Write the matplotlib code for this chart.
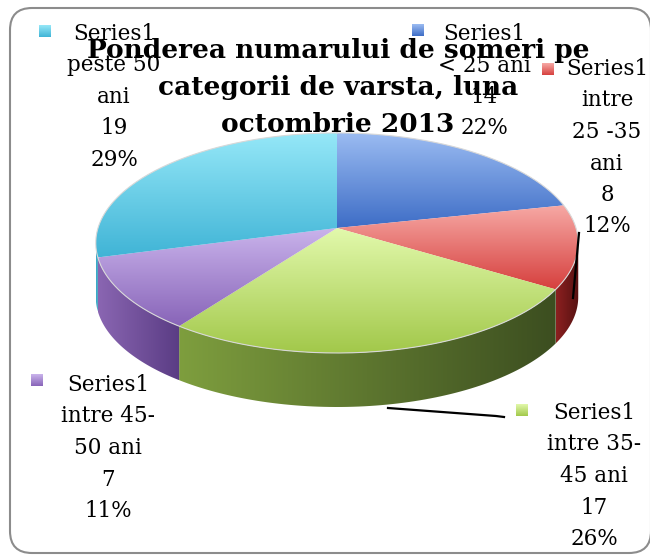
import numpy as np
import matplotlib
matplotlib.use("Agg")
import matplotlib.pyplot as plt
from matplotlib.patches import Polygon, FancyBboxPatch
from matplotlib.colors import to_rgb

# data (clockwise from 12 o'clock)
categories = ['< 25 ani', 'intre\n25 -35\nani', 'intre 35-\n45 ani', 'intre 45-\n50 ani', 'peste 50\nani']
values = [14, 8, 17, 7, 19]
series_name = 'Series1'
title = 'Ponderea numarului de someri pe\ncategorii de varsta, luna\noctombrie 2013'

# top face gradient (light, dark) and side wall gradient (left, right)
top_colors = [('#9cbcf2', '#3d6dc6'), ('#f7aaa6', '#d6403e'), ('#e2f9ac', '#a2c84a'),
              ('#cab4ec', '#8864b8'), ('#96e8f8', '#40b4d6')]
side_colors = [('#3d6dc6', '#2c528f'), ('#8c2020', '#561212'), ('#7e9e3e', '#3c4e20'),
               ('#8a66b2', '#5a3c84'), ('#3fb0d0', '#2d8aa6')]

# label placement: (center x, first baseline y, legend square x, y)
label_pos = [(484, 40, 412, 24), (607, 75, 542, 63), (594, 419, 516, 404),
             (108, 391, 31, 374), (114, 40, 39, 25)]

fig = plt.figure(figsize=(6.5, 5.58), dpi=100)
ax = fig.add_axes([0, 0, 1, 1])
ax.axis('off')

# geometry of the 3d pie (pixels)
cx, cy = 337, 228
a, b, k = 239, 108, 0.136
depth = 54


def proj(theta):
    th = np.radians(theta)
    u, v = np.sin(th), np.cos(th)
    d = 1 + k * v
    return np.column_stack([cx + a * u / d, cy - b * v / d])


def grad_fill(pts, c1, c2, vertical=True, z=2):
    pts = np.asarray(pts)
    x0, x1 = pts[:, 0].min(), pts[:, 0].max()
    y0, y1 = pts[:, 1].min(), pts[:, 1].max()
    poly = Polygon(pts, closed=True, facecolor='none', edgecolor='none')
    ax.add_patch(poly)
    t = np.linspace(0, 1, 256)[:, None]
    cols = np.array(to_rgb(c1)) * (1 - t) + np.array(to_rgb(c2)) * t
    img = cols[:, None, :] if vertical else cols[None, :, :]
    im = ax.imshow(img, extent=(x0, x1, y1, y0), origin='upper', aspect='auto',
                   interpolation='bilinear', zorder=z)
    im.set_clip_path(poly)


total = sum(values)
angles = np.concatenate([[0], np.cumsum(values) / total * 360])
th_r = np.degrees(np.arccos(-k))
th_l = 360 - th_r

for i in range(len(values)):
    t0, t1 = angles[i], angles[i + 1]
    # side wall, only the front part
    s0, s1 = max(t0, th_r), min(t1, th_l)
    if s1 > s0:
        rim = proj(np.linspace(s0, s1, 80))
        wall = np.vstack([rim, (rim + [0, depth])[::-1]])
        grad_fill(wall, side_colors[i][0], side_colors[i][1], vertical=False, z=2)
    # top face
    rim = proj(np.linspace(t0, t1, 120))
    face = np.vstack([[cx, cy], rim])
    grad_fill(face, top_colors[i][0], top_colors[i][1], vertical=True, z=3)

rim_all = proj(np.linspace(0, 360, 400))
ax.plot(rim_all[:, 0], rim_all[:, 1], color='#d8d8d8', lw=0.8, zorder=4)

# leader lines
ax.plot([579, 573], [233, 298], color='black', lw=1.6, zorder=5)
ax.plot([388, 496, 504], [408, 416, 417], color='black', lw=1.6, zorder=5)

# data labels
pitch = 31.5
for i, cat in enumerate(categories):
    pct = int(round(values[i] / total * 100))
    lines = [series_name] + cat.split('\n') + [str(values[i]), f'{pct}%']
    x, y0, sx, sy = label_pos[i]
    for j, line in enumerate(lines):
        ax.text(x, y0 + j * pitch, line, ha='center', va='baseline',
                fontsize=15.5, family='DejaVu Serif', color='black', zorder=6)
    grad_fill([[sx, sy], [sx + 12, sy], [sx + 12, sy + 12], [sx, sy + 12]],
              top_colors[i][0], top_colors[i][1], vertical=True, z=6)

# title
for j, line in enumerate(title.split('\n')):
    ax.text(338, 58 + j * 37, line, ha='center', va='baseline', fontsize=19,
            fontweight='bold', family='DejaVu Serif', color='black', zorder=7)

# chart border (right edge runs into the image edge)
border = FancyBboxPatch((10, 8), 641, 545, boxstyle='round,pad=0,rounding_size=22',
                        facecolor='none', edgecolor='#8c8c8c', lw=1.5, zorder=1)
ax.add_patch(border)

ax.set_xlim(0, 650)
ax.set_ylim(558, 0)
fig.savefig('out.png', dpi=100)
